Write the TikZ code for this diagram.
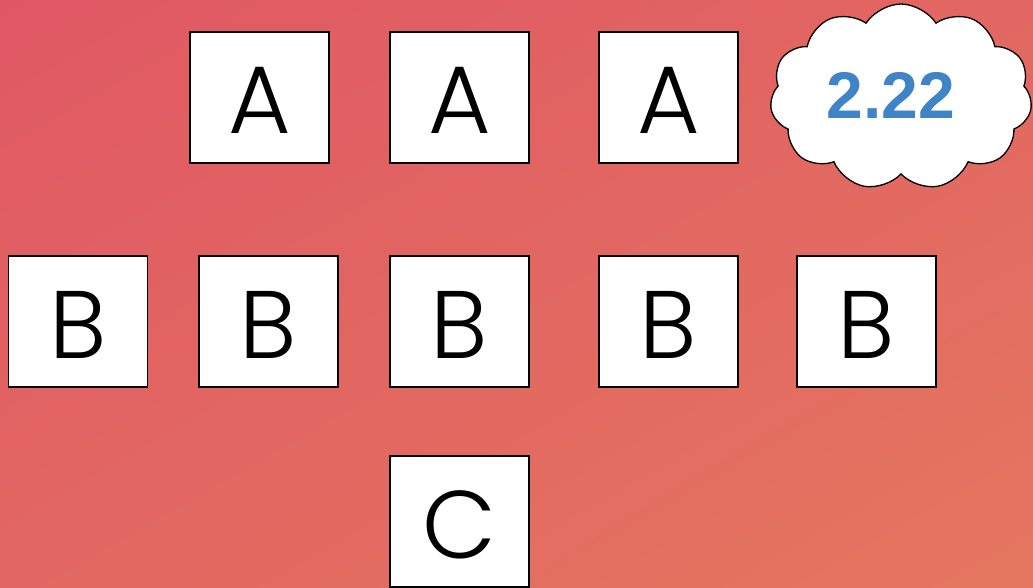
\documentclass[tikz,border=0pt]{standalone}
\usepackage{fontspec}
\usepackage{xcolor}
\usepackage{tikz}
\usetikzlibrary{shapes.symbols,shadings}
\newfontfamily\boxfont{Poppins Light}
\newfontfamily\cloudfont{Liberation Sans}
\definecolor{bgtl}{HTML}{E05864}
\definecolor{bgbr}{HTML}{E4765F}
\definecolor{bgmid}{HTML}{E26762}
\definecolor{numblue}{HTML}{3F84C6}

\begin{document}
\begin{tikzpicture}[x=1pt,y=-1pt,
  letterbox/.style={draw,fill=white,line width=1.3pt,minimum width=139pt,minimum height=131pt,inner sep=0pt,
    text height=73pt,text depth=0pt,font=\boxfont\fontsize{96}{96}\selectfont},
  puffy/.style={cloud,cloud puffs=11,cloud puff arc=115,aspect=1.4,draw,fill=white,line width=1.3pt,
    minimum width=262pt,minimum height=186pt,inner sep=0pt}]
% background
\shade[upper left=bgtl,lower right=bgbr,upper right=bgmid,lower left=bgmid] (0,0) rectangle (1033,588);
\useasboundingbox (0,0) rectangle (1033,588);
% top row
\foreach \x [count=\k] in {259.5,459.5,668.5} { \node[letterbox] (a\k) at (\x,97.5) {A}; }
% middle row
\foreach \x [count=\k] in {78,268.5,459.5,668.5,866.5} { \node[letterbox] (b\k) at (\x,321.5) {B}; }
% bottom
\node[letterbox] (c1) at (459.5,521.5) {C};
% cloud
\node[puffy] (score) at (901,97) {};
\node[font=\cloudfont\bfseries\fontsize{66}{66}\selectfont,text=numblue] (scoretxt) at (891,95) {2.22};
\end{tikzpicture}
\end{document}
